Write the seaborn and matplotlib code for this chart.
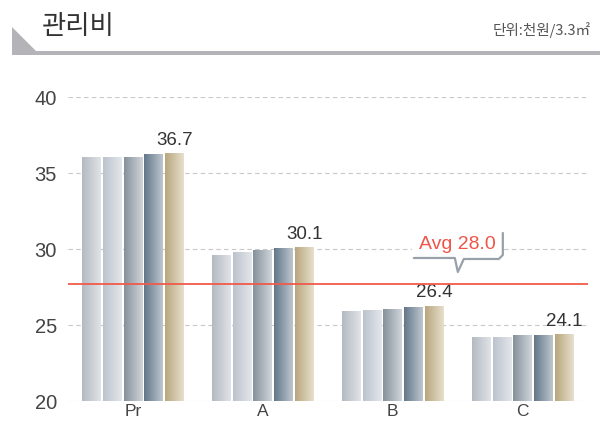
import numpy as np
import pandas as pd
import seaborn as sns
import matplotlib.pyplot as plt
from matplotlib.colors import LinearSegmentedColormap
from matplotlib.patches import Polygon, Rectangle
from matplotlib.transforms import IdentityTransform

sns.set_style("white")
plt.rcParams['font.family'] = ['Noto Sans CJK KR', 'DejaVu Sans']
num_font = 'Liberation Sans'

categories = ['Pr', 'A', 'B', 'C']
series = ['S1', 'S2', 'S3', 'S4', 'S5']
s1 = [36.0, 29.6, 25.9, 24.2]
s2 = [36.0, 29.8, 25.95, 24.2]
s3 = [36.05, 29.9, 26.05, 24.3]
s4 = [36.2, 30.05, 26.15, 24.3]
s5 = [36.3, 30.1, 26.25, 24.4]
top_labels = [36.7, 30.1, 26.4, 24.1]
avg_line = 27.7
avg_text = 'Avg 28.0'
yticks = [20, 25, 30, 35, 40]

grads = [('#b4bac2', '#e0e3e7'), ('#bcc3cd', '#e3e6eb'), ('#85919b', '#d0d5da'),
         ('#63778a', '#bdc6cd'), ('#b8a67e', '#e7e0cd')]

df = pd.DataFrame({'cat': np.repeat(categories, len(series)),
                   'series': series * len(categories),
                   'value': np.array([s1, s2, s3, s4, s5]).T.ravel()})

fig = plt.figure(figsize=(6.06, 4.21), dpi=100)
ax = fig.add_axes([0.112, 0.0475, 0.858, 0.722])
sns.barplot(data=df, x='cat', y='value', hue='series', hue_order=series,
            order=categories, width=0.8, gap=0.1, legend=False, ax=ax,
            palette=[g[0] for g in grads])

# gradient fill for each bar
grad = np.linspace(0, 1, 64).reshape(1, -1)
for i, cont in enumerate(ax.containers):
    cmap = LinearSegmentedColormap.from_list('g%d' % i, grads[i])
    for p in cont.patches:
        x, w, h = p.get_x(), p.get_width(), p.get_height()
        y0 = p.get_y()
        ax.imshow(grad, extent=(x, x + w, y0, y0 + h), aspect='auto',
                  cmap=cmap, zorder=2)
        p.set_visible(False)

# value labels over the last bar of each group
for p, v in zip(ax.containers[-1].patches, top_labels):
    ax.text(p.get_x() + p.get_width() / 2, p.get_height() + 0.3, f'{v:.1f}',
            ha='center', va='bottom', fontsize=13.5, color='#333333',
            family=num_font)

ax.set_xlim(-0.5, 3.5)
ax.set_ylim(20, 40)
ax.set_yticks(yticks)
ax.yaxis.grid(True, color='#c8c8c8', linestyle=(0, (4, 3)), linewidth=0.8)
ax.set_axisbelow(True)
for s in ax.spines.values():
    s.set_visible(False)
ax.tick_params(length=0)
ax.tick_params(axis='y', pad=8)
ax.tick_params(axis='x', pad=2)
for lab in ax.get_yticklabels():
    lab.set_family(num_font)
    lab.set_fontsize(14.5)
    lab.set_color('#444444')
for lab in ax.get_xticklabels():
    lab.set_family(num_font)
    lab.set_fontsize(12.5)
    lab.set_color('#444444')
ax.set_xlabel('')
ax.set_ylabel('')

# average line
ax.axhline(avg_line, color='#f05a4a', linewidth=1.3, zorder=3)

# callout bubble (pixel offsets from the average point)
fig.canvas.draw()
tx, ty = ax.transData.transform((2.5, avg_line))
tip = ty + 12
bot = tip + 14
top = bot + 27
left, right = tx - 46, tx + 45
fig.add_artist(Rectangle((left, bot), right - left, top - bot, transform=IdentityTransform(),
                         facecolor='white', edgecolor='none', zorder=5))
path = [(left + 2, bot), (tx - 3, bot), (tx, tip), (tx + 6, bot - 1), (right - 4, bot - 1),
        (right, bot + 3), (right, top - 2)]
xs, ys = zip(*path)
fig.add_artist(plt.Line2D(xs, ys, transform=IdentityTransform(), color='#98a0a9',
                          linewidth=1.6, solid_joinstyle='round', zorder=6))
fig.text((left + right) / 2 / fig.bbox.width, (bot + top) / 2 / fig.bbox.height, avg_text,
         ha='center', va='center', fontsize=14, color='#ee5548',
         family=num_font, zorder=7)

# header
W, H = 606, 421
fig.add_artist(Polygon([(12 / W, 1 - 27 / H), (12 / W, 1 - 55 / H), (40 / W, 1 - 55 / H)],
                       closed=True, transform=fig.transFigure, facecolor='#b3b3b8',
                       edgecolor='none'))
fig.add_artist(Rectangle((12 / W, 1 - 55 / H), 588 / W, 4 / H, transform=fig.transFigure,
                         facecolor='#b3b3b8', edgecolor='none'))
fig.text(42 / W, 1 - 26 / H, '관리비', fontsize=19, color='#333333', va='center', ha='left')
fig.text(591 / W, 1 - 30 / H, '단위:천원/3.3㎡', fontsize=10.5, color='#555555',
         va='center', ha='right')

fig.savefig('out.png', dpi=100)
